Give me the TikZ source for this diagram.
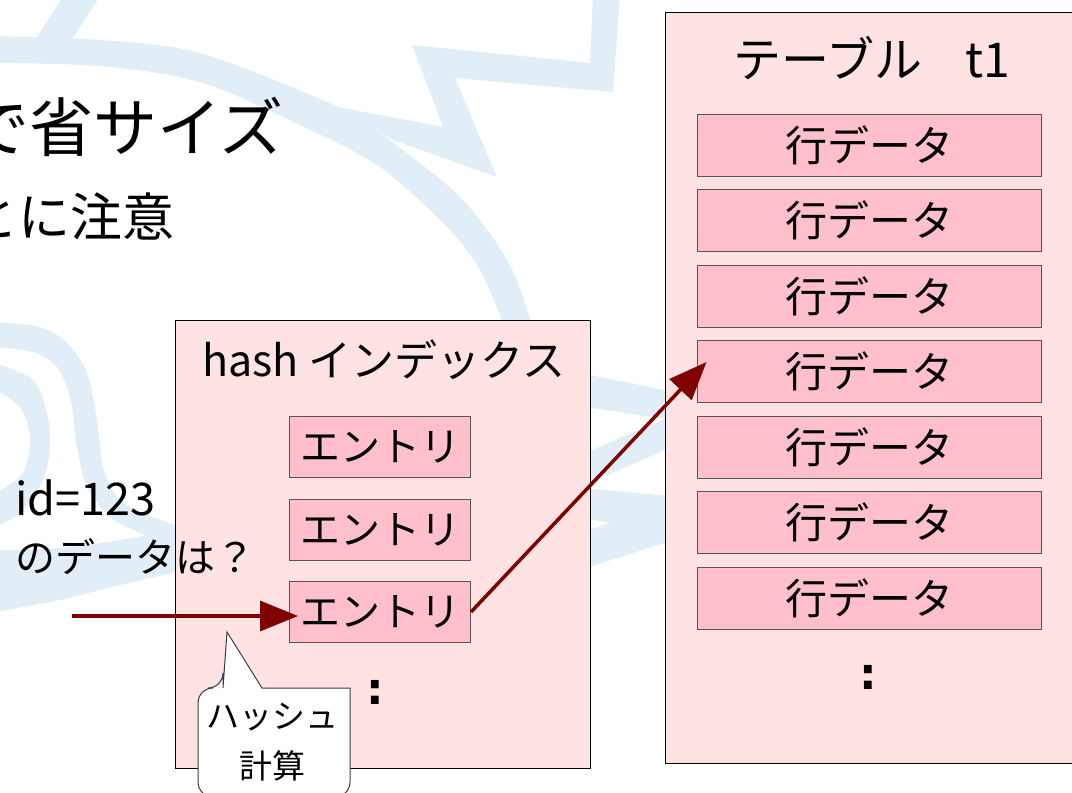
\documentclass[tikz,border=0pt]{standalone}
\usepackage{fontspec}
\setmainfont{Noto Sans CJK JP}
\newfontfamily\dejavu{DejaVu Sans}
\usetikzlibrary{arrows.meta,calc}
\definecolor{wm}{RGB}{225,238,247}
\definecolor{boxfill}{RGB}{255,226,226}
\definecolor{entryfill}{RGB}{255,192,203}
\definecolor{entryline}{RGB}{85,85,85}
\definecolor{arrowred}{RGB}{128,0,0}
\definecolor{calloutline}{RGB}{60,60,60}
\begin{document}
\begin{tikzpicture}[x=1pt,y=-1pt,
  every node/.style={inner sep=0pt},
  wmfill/.style={fill=wm,draw=none},
  bigbox/.style={draw=black,line width=1.2pt,fill=boxfill,anchor=north west},
  entrybox/.style={draw=entryline,line width=1pt,fill=entryfill,minimum width=181pt,minimum height=61pt,font=\fontsize{40}{44}\selectfont},
  rowbox/.style={draw=entryline,line width=1pt,fill=entryfill,minimum width=344pt,minimum height=62pt,font=\fontsize{42}{46}\selectfont},
  flow/.style={draw=arrowred,line width=3.5pt,-{Triangle[length=38pt,width=30pt]}},
  dots/.style={font=\dejavu\bfseries\fontsize{44}{48}\selectfont}
]
\useasboundingbox (0,0) rectangle (1072,793);
% ---- watermark ----
% big arc
\fill[wmfill] plot[smooth] coordinates {(-10,36) (100,40) (200,53) (338,107) (400,148) (463,200) (510,265) (535,335)}
  -- plot[smooth] coordinates {(508,335) (480,270) (447,227) (380,167) (300,125) (200,82) (100,66) (-10,63)} -- cycle;
% small diagonal at top left
\fill[wmfill] (30,48) -- (66,48) -- (101,-5) -- (64,-5) -- cycle;
% zigzag
\fill[wmfill] (593,-5) -- (620,-5) -- (613,92) -- (455,78) -- (497,177) -- (393,140) -- (338,107) -- (443,127) -- (412,45) -- (590,63) -- cycle;
% left swirl, outer band
\fill[wmfill] plot[smooth] coordinates {(-5,322) (40,327) (67,343) (87,373) (97,420) (103,467) (117,497) (143,513) (180,527)}
  -- plot[smooth] coordinates {(180,547) (140,533) (110,517) (87,487) (77,447) (70,397) (57,367) (33,352) (-5,347)} -- cycle;
% left swirl, inner arc
\fill[wmfill] plot[smooth] coordinates {(-5,363) (33,380) (47,413) (50,447) (43,480) (20,513) (-5,527)}
  -- plot[smooth] coordinates {(-5,493) (23,473) (30,437) (20,407) (-5,390)} -- cycle;
% left lower band
\fill[wmfill] plot[smooth] coordinates {(-5,550) (60,548) (120,540) (200,525)}
  -- plot[smooth] coordinates {(200,567) (120,585) (60,600) (-5,612)} -- cycle;
% chevrons between the boxes
\fill[wmfill] (580,373) -- (670,391) -- (670,448) -- (580,487) -- (580,455) -- (665,419) -- (580,406) -- cycle;
\fill[wmfill] (580,488) -- (670,496) -- (670,541) -- (580,570) -- (580,533) -- (610,523) -- (580,517) -- cycle;
% ---- headings ----
\node[anchor=east,font=\fontsize{64}{70}\selectfont] (h1) at (284,127) {で省サイズ};
\node[anchor=east,font=\fontsize{52}{56}\selectfont] (h2) at (175,216) {とに注意};
% ---- hash index ----
\node[bigbox,minimum width=415pt,minimum height=448pt] (hashbox) at (175,320) {};
\node[font=\fontsize{43}{48}\selectfont] (hashtitle) at (384,360) {hash インデックス};
\node[entrybox] (e1) at (380,447) {エントリ};
\node[entrybox] (e2) at (380,530) {エントリ};
\node[entrybox] (e3) at (380,612) {エントリ};
\node[dots] (hdots) at (375,692) {:};
% ---- table ----
\node[bigbox,minimum width=420pt,minimum height=751pt] (tbl) at (665,12) {};
\node[font=\fontsize{48}{52}\selectfont] (tbltitle) at (872,58) {テーブル\hspace{0.9em}t1};
\node[rowbox] (r1) at (869,145) {行データ};
\node[rowbox] (r2) at (869,220) {行データ};
\node[rowbox] (r3) at (869,296) {行データ};
\node[rowbox] (r4) at (869,371) {行データ};
\node[rowbox] (r5) at (869,447) {行データ};
\node[rowbox] (r6) at (869,522) {行データ};
\node[rowbox] (r7) at (869,598) {行データ};
\node[dots] (tdots) at (868,677) {:};
% ---- query text ----
\node[anchor=west,font=\fontsize{45}{50}\selectfont] (q1) at (15,498) {id=123};
\node[anchor=west,font=\fontsize{40}{44}\selectfont] (q2) at (15,557) {のデータは？};
% ---- arrows ----
\coordinate (src) at (72,616);
\draw[flow,shorten >=-9pt] (src) -- (src -| e3.west);
\draw[flow] (e3.east) -- ($(r4.west)+(10,-9)$);
% ---- callout ----
\draw[draw=calloutline,line width=1pt,fill=white] (223,688) -- (227,632) -- (262,688) -- (350,688) [rounded corners=15pt] -- (350,797) -- (198,797) -- (198,688) -- (223,688) [sharp corners] -- cycle;
\node[align=center,font=\fontsize{33}{50}\selectfont] (hcalc) at (272,742) {ハッシュ\\計算};
\end{tikzpicture}
\end{document}
